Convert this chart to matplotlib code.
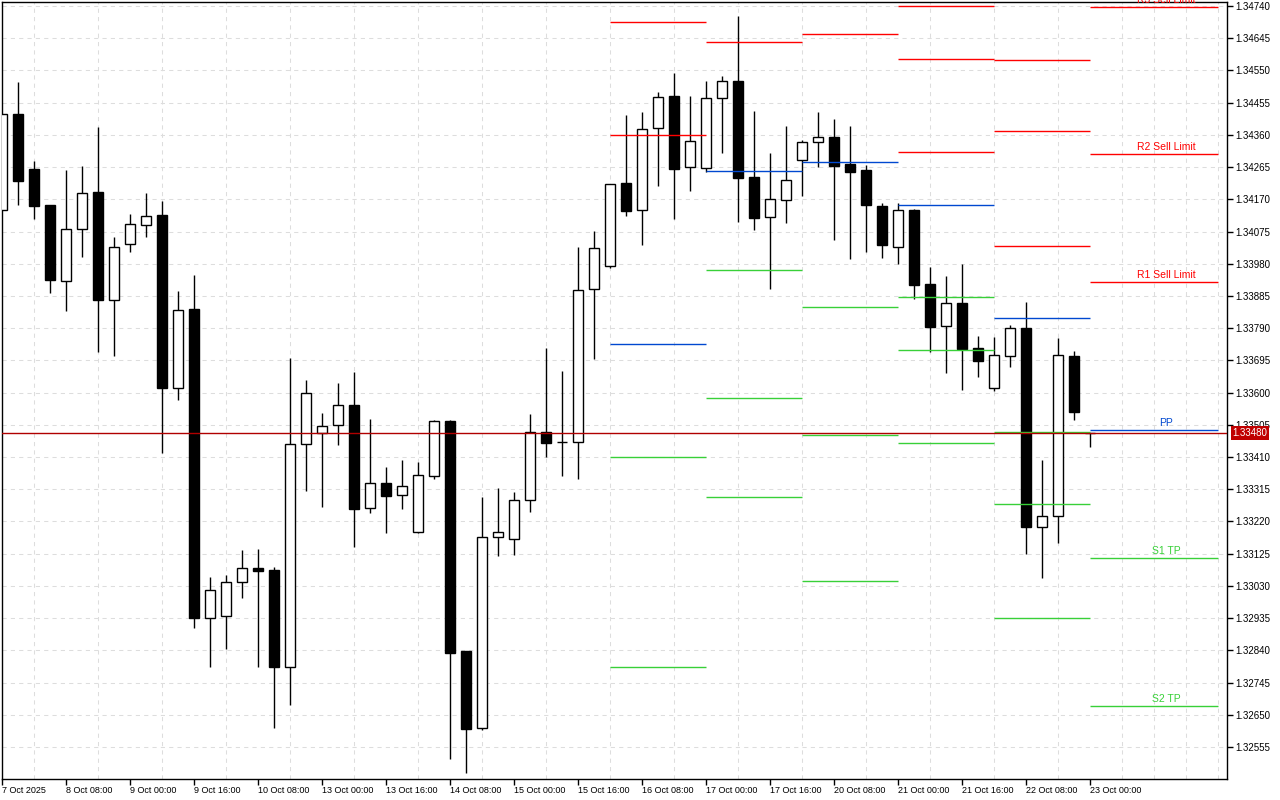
import numpy as np
import matplotlib
matplotlib.use("Agg")
import matplotlib.pyplot as plt

plt.rcParams['font.family'] = ['Liberation Sans', 'DejaVu Sans']

# H4 candles, 7 Oct 2025 .. 23 Oct 2025
opens = [1.34139, 1.34422, 1.34259, 1.34153, 1.33929, 1.34083, 1.34192, 1.33873, 1.34038, 1.34094,
         1.34124, 1.33614, 1.33847, 1.32935, 1.32941, 1.33042, 1.33083, 1.33077, 1.32791, 1.33448,
         1.33481, 1.33505, 1.33563, 1.33260, 1.33333, 1.33298, 1.33189, 1.33354, 1.33516, 1.32838,
         1.32611, 1.33174, 1.33168, 1.33283, 1.33484, 1.33454, 1.33454, 1.33906, 1.33973, 1.34218,
         1.34139, 1.34380, 1.34475, 1.34265, 1.34262, 1.34469, 1.34519, 1.34236, 1.34118, 1.34168,
         1.34286, 1.34339, 1.34354, 1.34274, 1.34256, 1.34150, 1.34029, 1.34139, 1.33920, 1.33796,
         1.33864, 1.33732, 1.33614, 1.33708, 1.33791, 1.33204, 1.33236, 1.33708, 1.33481]
highs = [1.34422, 1.34516, 1.34283, 1.34153, 1.34256, 1.34268, 1.34383, 1.34059, 1.34127, 1.34189,
         1.34165, 1.33900, 1.33947, 1.33056, 1.33062, 1.33136, 1.33139, 1.33086, 1.33702, 1.33637,
         1.33540, 1.33628, 1.33661, 1.33522, 1.33381, 1.33401, 1.33395, 1.33519, 1.33519, 1.32838,
         1.33292, 1.33319, 1.33307, 1.33537, 1.33732, 1.33664, 1.34029, 1.34077, 1.34215, 1.34419,
         1.34427, 1.34486, 1.34542, 1.34475, 1.34519, 1.34534, 1.34711, 1.34430, 1.34307, 1.34386,
         1.34345, 1.34427, 1.34407, 1.34386, 1.34271, 1.34159, 1.34159, 1.34141, 1.33970, 1.33944,
         1.33979, 1.33767, 1.33764, 1.33799, 1.33867, 1.33401, 1.33761, 1.33723, 1.33481]
lows = [1.34139, 1.34153, 1.34112, 1.33894, 1.33841, 1.34000, 1.33720, 1.33708, 1.34015, 1.34059,
        1.33422, 1.33578, 1.32906, 1.32791, 1.32844, 1.32994, 1.32791, 1.32611, 1.32679, 1.33310,
        1.33263, 1.33446, 1.33145, 1.33245, 1.33186, 1.33257, 1.33186, 1.33345, 1.32520, 1.32478,
        1.32605, 1.33118, 1.33121, 1.33248, 1.33410, 1.33354, 1.33345, 1.33699, 1.33967, 1.34121,
        1.34035, 1.34209, 1.34112, 1.34195, 1.34251, 1.34307, 1.34103, 1.34080, 1.33906, 1.34100,
        1.34180, 1.34265, 1.34050, 1.33994, 1.34015, 1.33997, 1.33979, 1.33876, 1.33720, 1.33658,
        1.33608, 1.33646, 1.33605, 1.33676, 1.33124, 1.33053, 1.33157, 1.33519, 1.33440]
closes = [1.34422, 1.34224, 1.34150, 1.33932, 1.34083, 1.34189, 1.33873, 1.34029, 1.34097, 1.34121,
          1.33614, 1.33844, 1.32935, 1.33018, 1.33042, 1.33083, 1.33074, 1.32791, 1.33448, 1.33599,
          1.33502, 1.33563, 1.33257, 1.33333, 1.33295, 1.33325, 1.33357, 1.33516, 1.32832, 1.32608,
          1.33174, 1.33189, 1.33283, 1.33484, 1.33451, 1.33454, 1.33903, 1.34026, 1.34215, 1.34136,
          1.34377, 1.34472, 1.34259, 1.34342, 1.34469, 1.34519, 1.34233, 1.34115, 1.34171, 1.34227,
          1.34339, 1.34354, 1.34268, 1.34251, 1.34153, 1.34035, 1.34139, 1.33917, 1.33793, 1.33864,
          1.33729, 1.33693, 1.33711, 1.33791, 1.33204, 1.33236, 1.33711, 1.33543, 1.33480]

date_labels = ["7 Oct 2025", "8 Oct 08:00", "9 Oct 00:00", "9 Oct 16:00", "10 Oct 08:00",
               "13 Oct 00:00", "13 Oct 16:00", "14 Oct 08:00", "15 Oct 00:00", "15 Oct 16:00",
               "16 Oct 08:00", "17 Oct 00:00", "17 Oct 16:00", "20 Oct 08:00", "21 Oct 00:00",
               "21 Oct 16:00", "22 Oct 08:00", "23 Oct 00:00"]

# daily pivot levels: 16, 17, 20, 21, 22, 23 Oct (first / last bar of each day)
day_first_bar = [38, 44, 50, 56, 62, 68]
day_last_bar = [44, 50, 56, 62, 68, 76]
r3 = [1.35309, 1.35306, 1.35462, 1.34740, 1.34581, 1.34737]
r2 = [1.34693, 1.34926, 1.35085, 1.34584, 1.34371, 1.34304]
r1 = [1.34360, 1.34634, 1.34657, 1.34310, 1.34032, 1.33926]
pp = [1.33743, 1.34253, 1.34280, 1.34153, 1.33820, 1.33490]
s1 = [1.33410, 1.33962, 1.33852, 1.33882, 1.33484, 1.33112]
s2 = [1.32791, 1.33584, 1.33475, 1.33726, 1.33272, 1.32676]
s3 = [1.32450, 1.33292, 1.33044, 1.33451, 1.32935, 1.32298]

bid = 1.33480

RED = '#ff0000'
BLUE = '#0048d0'
GREEN = '#38d038'

fig = plt.figure(figsize=(12.8, 8), dpi=100)
ax = fig.add_axes([2 / 1280, 21 / 800, 1225 / 1280, 777 / 800])

x = np.arange(len(opens))
o = np.array(opens)
c = np.array(closes)
up = c >= o

# wicks
ax.vlines(x, lows, highs, color='black', linewidth=1.0, zorder=2)
# bodies
ax.bar(x, np.abs(c - o), bottom=np.minimum(o, c), width=0.62,
       color=np.where(up, 'white', 'black'), edgecolor='black', linewidth=1.0, zorder=3)

# pivot lines
levels = [(r3, RED), (r2, RED), (r1, RED), (pp, BLUE), (s1, GREEN), (s2, GREEN), (s3, GREEN)]
for vals, col in levels:
    ax.hlines(vals, day_first_bar, day_last_bar, color=col, linewidth=1.0, zorder=4)

# labels of today's levels
names = ["R3 Sell Limit", "R2 Sell Limit", "R1 Sell Limit", "PP", "S1 TP", "S2 TP"]
mid = (day_first_bar[-1] + day_last_bar[-1]) / 2 + 0.75
for name, (vals, col) in zip(names, levels):
    ax.annotate(name, (mid, vals[-1]), xytext=(0, 1.5), textcoords='offset points',
                ha='center', va='bottom', fontsize=7.5, color=col, zorder=5)

# bid line
ax.axhline(bid, color='#b00000', linewidth=1.0, zorder=4)
ax.annotate(f"{bid:.5f}", xy=(1.0, bid), xycoords=('axes fraction', 'data'),
            xytext=(4, 0), textcoords='offset points', ha='left', va='center',
            fontsize=7, color='white', annotation_clip=False,
            bbox=dict(boxstyle='square,pad=0.2', fc='#c00000', ec='none'))

ax.set_xlim(0, 76.5625)
ax.set_ylim(1.324607, 1.347518)

yt = np.round(np.arange(1.32555, 1.34741, 0.00095), 5)
ax.set_yticks(yt)
ax.set_yticklabels([f"{v:.5f}" for v in yt])
ax.yaxis.tick_right()
ax.tick_params(axis='y', direction='out', length=4, width=1, labelsize=7, pad=2)

ax.set_xticks(np.arange(0, 4 * len(date_labels), 4))
ax.set_xticklabels(date_labels)
ax.set_xticks(np.arange(0, 77, 2), minor=True)
ax.tick_params(axis='x', which='major', direction='out', length=4, width=1, labelsize=6.5, pad=1)
ax.tick_params(axis='x', which='minor', length=0)
for lab in ax.get_xticklabels():
    lab.set_horizontalalignment('left')

ax.xaxis.grid(True, which='minor', color='#dddddd', linestyle=(0, (4, 4)), linewidth=0.75)
ax.yaxis.grid(True, which='major', color='#dddddd', linestyle=(0, (4, 4)), linewidth=0.75)
ax.set_axisbelow(True)

for sp in ax.spines.values():
    sp.set_color('black')
    sp.set_linewidth(1.0)

fig.savefig('out.png', dpi=100, facecolor='white')
